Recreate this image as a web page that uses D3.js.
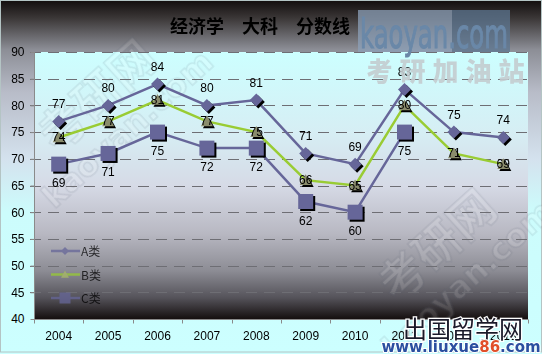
<!DOCTYPE html>
<html>
<head>
<meta charset="utf-8">
<script src="https://cdn.jsdelivr.net/npm/d3@7/dist/d3.min.js"></script>
<style>
  html, body { margin: 0; padding: 0; background: #ccffff; }
  svg { display: block; }
</style>
</head>
<body>
<svg id="chart" width="542" height="354"></svg>
<script>
// Admission cut-off scores, Economics (大科), 2004-2013
const years = ['2004', '2005', '2006', '2007', '2008', '2009', '2010', '2011', '2012', '2013'];
const seriesA = [77, 80, 84, 80, 81, 71, 69, 83, 75, 74];
const seriesB = [74, 77, 81, 77, 75, 66, 65, 80, 71, 69];
const seriesC = [69, 71, 75, 72, 72, 62, 60, 75, null, null];
const seriesNames = ['A类', 'B类', 'C类'];
const yTicks = [40, 45, 50, 55, 60, 65, 70, 75, 80, 85, 90];

const W = 542, H = 354;
const plot = { left: 34, right: 528, top: 52, bottom: 319 };

const svg = d3.select('#chart');
const defs = svg.append('defs');

// Outer background: dark band at the top fading into pale cyan
const bgGrad = defs.append('linearGradient').attr('id', 'bgGrad')
  .attr('x1', 0).attr('y1', 0).attr('x2', 0).attr('y2', 1);
[[0, '#120d0d'], [0.05, '#3a3636'], [0.14, '#8c8e96'], [0.26, '#b8bcc8'], [0.45, '#d4e2ee'], [0.6, '#ccfcfc'], [1, '#ccffff']]
  .forEach(([o, c]) => bgGrad.append('stop').attr('offset', o).attr('stop-color', c));

// Plot background: pale cyan at the top darkening to near black
const plotGrad = defs.append('linearGradient').attr('id', 'plotGrad')
  .attr('x1', 0).attr('y1', 0).attr('x2', 0).attr('y2', 1);
[[0, '#ccffff'], [0.3, '#d6eef4'], [0.5, '#d6dae6'], [0.68, '#b8b8c2'], [0.82, '#8c8c94'], [0.92, '#55535a'], [1, '#150f0f']]
  .forEach(([o, c]) => plotGrad.append('stop').attr('offset', o).attr('stop-color', c));

svg.append('rect').attr('x', 0).attr('y', 0).attr('width', W).attr('height', H)
  .attr('fill', 'url(#bgGrad)');
svg.append('rect').attr('x', 0.5).attr('y', 0.5).attr('width', W - 1).attr('height', H - 2.5)
  .attr('fill', 'none').attr('stroke', '#b4c4c4');

svg.append('rect')
  .attr('x', plot.left).attr('y', plot.top)
  .attr('width', plot.right - plot.left).attr('height', plot.bottom - plot.top)
  .attr('fill', 'url(#plotGrad)');

// Faint diagonal site stamps behind the data
const stamps = svg.append('g').attr('opacity', 0.13);
[[112, 112], [452, 262]].forEach(([sx, sy]) => {
  const g = stamps.append('g').attr('transform', `translate(${sx},${sy}) rotate(-42)`);
  g.append('text').attr('y', -6).attr('text-anchor', 'middle')
    .attr('font-family', '"Noto Sans CJK SC", sans-serif').attr('font-size', 46).attr('font-weight', 700)
    .attr('fill', '#ffffff').attr('stroke', '#606878').attr('stroke-width', 1.5)
    .text('考研网');
  g.append('text').attr('y', 34).attr('text-anchor', 'middle')
    .attr('font-family', '"DejaVu Sans", sans-serif').attr('font-size', 32).attr('font-weight', 700)
    .attr('fill', '#ffffff').attr('stroke', '#606878').attr('stroke-width', 1.5)
    .text('kaoyan.com');
});

// Scales
const x = d3.scaleBand().domain(years).range([plot.left, plot.right]).padding(0);
const y = d3.scaleLinear().domain([40, 90]).range([plot.bottom, plot.top]);
const cx = d => x(d) + x.bandwidth() / 2;

// Dashed horizontal gridlines
svg.append('g').selectAll('line').data(yTicks.filter(v => v > 40)).join('line')
  .attr('x1', plot.left - 4).attr('x2', plot.right)
  .attr('y1', d => Math.round(y(d)) + 0.5).attr('y2', d => Math.round(y(d)) + 0.5)
  .attr('stroke', '#6e6e74').attr('stroke-width', 1)
  .attr('stroke-dasharray', '11,7');

// Axes
const font = '"Liberation Sans", Arial, sans-serif';
const yAxis = svg.append('g').attr('transform', `translate(${plot.left + 0.5},0)`)
  .call(d3.axisLeft(y).tickValues(yTicks).tickSize(4).tickPadding(6));
const xAxis = svg.append('g').attr('transform', `translate(0,${plot.bottom + 0.5})`)
  .call(d3.axisBottom(x).tickSize(0).tickPadding(12));
[yAxis, xAxis].forEach(g => {
  g.selectAll('path.domain').attr('stroke', '#8a8a8a');
  g.selectAll('.tick line').attr('stroke', '#8a8a8a');
  g.selectAll('text').attr('font-family', font).attr('font-size', 12).attr('fill', '#000');
});
yAxis.select('path.domain').remove();
yAxis.append('line').attr('x1', 0).attr('x2', 0).attr('y1', plot.top).attr('y2', plot.bottom)
  .attr('stroke', '#8a8a8a');
xAxis.select('path.domain').remove();
xAxis.append('line').attr('x1', plot.left).attr('x2', plot.right).attr('y1', 0).attr('y2', 0)
  .attr('stroke', '#8a8a8a');
// category boundary ticks
xAxis.selectAll('line.bound').data(years.slice(1).concat(['end'])).join('line').attr('class', 'bound')
  .attr('x1', (d, i) => Math.round(plot.left + x.bandwidth() * (i + 1)) + 0.5)
  .attr('x2', (d, i) => Math.round(plot.left + x.bandwidth() * (i + 1)) + 0.5)
  .attr('y1', 0).attr('y2', 4).attr('stroke', '#8a8a8a');
xAxis.append('line').attr('x1', plot.left + 0.5).attr('x2', plot.left + 0.5).attr('y1', 0).attr('y2', 4)
  .attr('stroke', '#8a8a8a');

// Title
svg.append('text').attr('x', 260).attr('y', 33).attr('text-anchor', 'middle')
  .attr('font-family', '"Noto Sans CJK SC", sans-serif').attr('font-size', 18)
  .attr('font-weight', 700).attr('fill', '#000')
  .text('经济学　大科　分数线');

// Series definitions
const lineCol = '#666699';
const series = [
  { name: seriesNames[0], values: seriesA, stroke: lineCol, shape: 'diamond', fill: '#666699', labelDy: -13 },
  { name: seriesNames[1], values: seriesB, stroke: '#99cc33', shape: 'triangle', fill: '#8a8c6c', labelDy: 4 },
  { name: seriesNames[2], values: seriesC, stroke: lineCol, shape: 'square', fill: '#666699', labelDy: 23 }
];

const markerPath = {
  diamond: s => `M0,${-s}L${s},0L0,${s}L${-s},0Z`,
  triangle: s => `M0,${-s}L${s},${s * 0.8}L${-s},${s * 0.8}Z`,
  square: s => `M${-s},${-s}H${s}V${s}H${-s}Z`
};
const markerSize = { diamond: 6.5, triangle: 6, square: 7.5 };

const line = d3.line()
  .defined(d => d.v != null)
  .x(d => cx(d.year))
  .y(d => y(d.v));

const layer = svg.append('g');
series.forEach(s => {
  const pts = years.map((yr, i) => ({ year: yr, v: s.values[i] }));
  layer.append('path').datum(pts)
    .attr('d', line).attr('fill', 'none')
    .attr('stroke', s.stroke).attr('stroke-width', 2.5);
});

series.forEach(s => {
  const pts = years.map((yr, i) => ({ year: yr, v: s.values[i] })).filter(d => d.v != null);
  const g = layer.append('g');
  const sz = markerSize[s.shape];
  // drop shadow
  g.selectAll('path.shadow').data(pts).join('path').attr('class', 'shadow')
    .attr('transform', d => `translate(${cx(d.year) + 2},${y(d.v) + 2})`)
    .attr('d', markerPath[s.shape](sz)).attr('fill', '#000');
  g.selectAll('path.mk').data(pts).join('path').attr('class', 'mk')
    .attr('transform', d => `translate(${cx(d.year)},${y(d.v)})`)
    .attr('d', markerPath[s.shape](sz)).attr('fill', s.fill);
  g.selectAll('text').data(pts).join('text')
    .attr('x', d => cx(d.year)).attr('y', d => y(d.v) + s.labelDy)
    .attr('text-anchor', 'middle')
    .attr('font-family', font).attr('font-size', 12).attr('fill', '#000')
    .text(d => d.v);
});

// Legend
const legend = svg.append('g').attr('opacity', 0.75);
series.forEach((s, i) => {
  const ly = 251 + i * 23.5;
  const g = legend.append('g');
  g.append('line').attr('x1', 51).attr('x2', 80).attr('y1', ly).attr('y2', ly)
    .attr('stroke', s.stroke).attr('stroke-width', 2.5);
  g.append('path').attr('transform', `translate(65,${ly})`)
    .attr('d', markerPath[s.shape](s.shape === 'square' ? 5.5 : 4)).attr('fill', s.shape === 'triangle' ? '#aabb66' : s.fill);
  g.append('text').attr('x', 81).attr('y', ly + 5)
    .attr('font-family', '"Noto Sans CJK SC", sans-serif').attr('font-size', 12).attr('fill', '#000')
    .text(s.name);
});

// Site marks
const marks = svg.append('g');
marks.append('rect').attr('x', 358).attr('y', 10).attr('width', 94).attr('height', 42)
  .attr('fill', '#8ca0b8').attr('opacity', 0.75);
marks.append('rect').attr('x', 452).attr('y', 10).attr('width', 58).attr('height', 42)
  .attr('fill', '#5c7690').attr('opacity', 0.75);
marks.append('text').attr('x', 360).attr('y', 48)
  .attr('font-family', '"DejaVu Sans Condensed", "DejaVu Sans", sans-serif').attr('font-size', 40)
  .attr('textLength', 148).attr('lengthAdjust', 'spacingAndGlyphs')
  .attr('fill', '#6a88a8').attr('stroke', '#6a88a8').attr('stroke-width', 1).text('kaoyan.com');
marks.append('text').attr('x', 449).attr('y', 81).attr('text-anchor', 'middle')
  .attr('font-family', '"Noto Sans CJK SC", sans-serif').attr('font-size', 26).attr('font-weight', 900)
  .attr('letter-spacing', 7)
  .attr('fill', '#c4ccd0').attr('opacity', 0.9)
  .text('考研加油站');
marks.append('text').attr('x', 463).attr('y', 338).attr('text-anchor', 'middle')
  .attr('font-family', '"Noto Sans CJK SC", sans-serif').attr('font-size', 24)
  .attr('fill', '#1a1a2a').attr('stroke', '#ffffff').attr('stroke-width', 2.5).attr('paint-order', 'stroke')
  .text('出国留学网');
const url = marks.append('text').attr('x', 461).attr('y', 352).attr('text-anchor', 'middle')
  .attr('font-family', '"DejaVu Sans", sans-serif').attr('font-size', 15).attr('font-weight', 700)
  .attr('fill', '#2a4fa0').attr('stroke', '#ffffff').attr('stroke-width', 2).attr('paint-order', 'stroke');
url.append('tspan').text('www.liuxue');
url.append('tspan').attr('fill', '#e0502a').text('86');
url.append('tspan').text('.com');
</script>
</body>
</html>
